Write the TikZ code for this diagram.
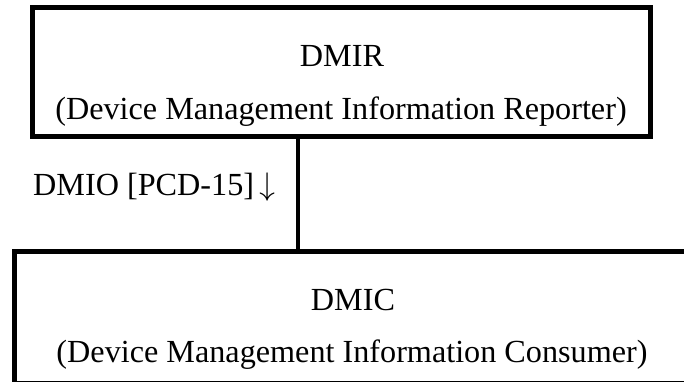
\documentclass[tikz,border=0pt]{standalone}
\usepackage{fontspec}
\usepackage{unicode-math}
\setmainfont{Liberation Serif}
\setmathfont{Latin Modern Math}
\usetikzlibrary{calc}

\newcommand{\diagfont}{\fontsize{32.2}{38}\selectfont}

\begin{document}
\begin{tikzpicture}[x=1pt,y=-1pt,
    box/.style={draw,line width=5pt,inner sep=0pt},
    txt/.style={anchor=base,font=\diagfont,inner sep=0pt}]

    \useasboundingbox (0,0) rectangle (684,382);
    \clip (0,0) rectangle (684,382);

    % reporter on top, consumer below
    \node[box,minimum width=618pt,minimum height=129pt] (dmir) at (341.5,72.5) {};
    \node[box,minimum width=676pt,minimum height=132pt] (dmic) at (352,317.5) {};

    \node[txt] (dmirname) at (342,67) {DMIR};
    \node[txt] (dmirlong) at (341,120) {(Device Management Information Reporter)};
    \node[txt] (dmicname) at (353,310) {DMIC};
    \node[txt] (dmiclong) at (352,362) {(Device Management Information Consumer)};

    % link between the two actors
    \coordinate (tap) at (298,0);
    \draw[line width=3.5pt] (tap |- dmir.south) -- (tap |- dmic.north);
    \node[txt,anchor=base west] (dmio) at (33,195) {DMIO [PCD-15]\,$\downarrow$};
\end{tikzpicture}
\end{document}
